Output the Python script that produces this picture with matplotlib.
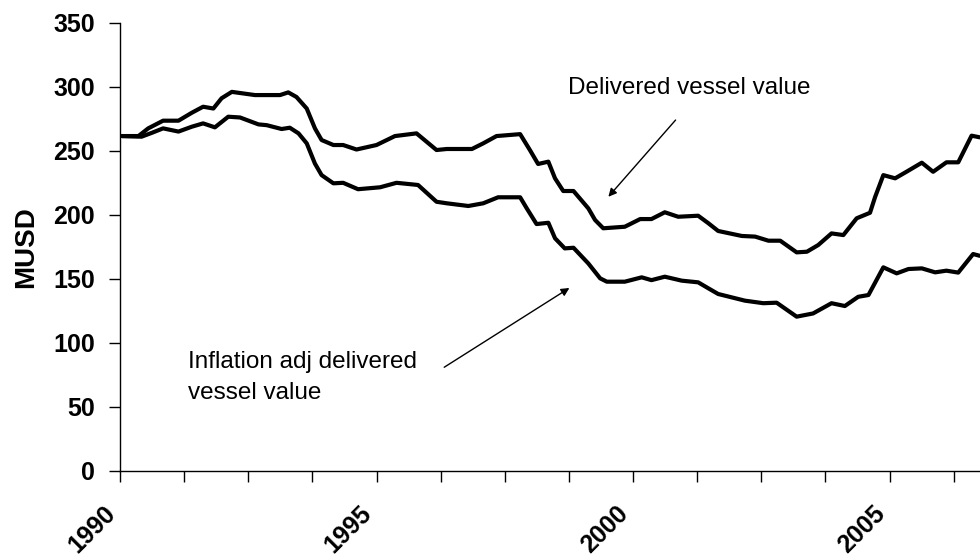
import matplotlib
matplotlib.use("Agg")
import matplotlib.pyplot as plt
import numpy as np

# ---- data (decimal years, MUSD) ----
delivered_t = [1990.04, 1990.36, 1990.55, 1990.84, 1991.14, 1991.40, 1991.62, 1991.82, 1991.98, 1992.18,
               1992.63, 1993.12, 1993.28, 1993.44, 1993.64, 1993.80, 1993.93, 1994.16, 1994.35, 1994.61,
               1995.00, 1995.36, 1995.78, 1996.17, 1996.37, 1996.86, 1997.08, 1997.34, 1997.80, 1997.99,
               1998.15, 1998.35, 1998.48, 1998.64, 1998.84, 1999.13, 1999.26, 1999.42, 1999.84, 2000.14,
               2000.36, 2000.62, 2000.88, 2001.27, 2001.47, 2001.66, 2002.12, 2002.38, 2002.64, 2002.87,
               2003.19, 2003.39, 2003.61, 2003.87, 2004.10, 2004.36, 2004.62, 2004.72, 2004.88, 2005.11,
               2005.33, 2005.63, 2005.85, 2006.11, 2006.34, 2006.60, 2006.76]
delivered_v = [261.5, 261.5, 267.5, 273.5, 273.5, 279.7, 284.4, 283, 291, 296,
               293.5, 293.5, 295.6, 292, 283, 267.5, 258.4, 254.5, 254.5, 251,
               254.5, 261.5, 263.6, 250.6, 251.4, 251.4, 255.8, 261.5, 263, 250.6,
               239.7, 241.5, 228.5, 218.6, 218.6, 205, 196, 189.5, 190.7, 196.7,
               196.7, 202, 198.5, 199.3, 193.4, 187.4, 183.5, 183, 179.8, 179.8,
               170.7, 171.2, 176.4, 185.5, 184.2, 197.3, 201.6, 214, 231, 228.5,
               233.6, 240.7, 233.6, 241, 241, 261.8, 260.5]

inflation_t = [1990.04, 1990.42, 1990.62, 1990.84, 1991.14, 1991.40, 1991.62, 1991.85, 1992.11, 1992.34,
               1992.70, 1992.86, 1993.15, 1993.31, 1993.48, 1993.64, 1993.80, 1993.93, 1994.16, 1994.35,
               1994.64, 1995.07, 1995.39, 1995.81, 1996.17, 1996.37, 1996.79, 1997.08, 1997.37, 1997.80,
               1997.93, 1998.12, 1998.35, 1998.48, 1998.67, 1998.84, 1999.13, 1999.36, 1999.49, 1999.84,
               2000.17, 2000.36, 2000.62, 2000.95, 2001.27, 2001.47, 2001.66, 2002.18, 2002.54, 2002.80,
               2003.19, 2003.51, 2003.87, 2004.13, 2004.39, 2004.59, 2004.88, 2005.14, 2005.37, 2005.63,
               2005.89, 2006.11, 2006.34, 2006.63, 2006.76]
inflation_v = [261.5, 261, 264, 267.5, 265, 268.8, 271.4, 268.3, 276.6, 276,
               270.6, 270, 267, 268, 263.6, 255.8, 240, 231, 224.6, 225,
               220, 221.5, 225, 223.3, 210.2, 209, 206.9, 209, 213.7, 213.7,
               205, 192.8, 193.8, 181.7, 173.8, 174.3, 162, 150.4, 147.8, 147.8,
               151.2, 149, 151.7, 148.6, 147.3, 142.6, 138.2, 133, 131, 131.4,
               120.5, 123, 131, 128.8, 136, 137.4, 159, 154.3, 157.7, 158.2,
               155.1, 156.4, 154.9, 169.4, 168]

year_labels = ["1990", "1995", "2000", "2005"]
y_ticks = [0, 50, 100, 150, 200, 250, 300, 350]

plt.rcParams['font.family'] = ['Liberation Sans', 'DejaVu Sans']

fig = plt.figure(figsize=(9.8, 5.56), dpi=100)
ax = fig.add_axes([120/980, 85/556, 1 - 120/980, (471 - 22.7)/556])

ax.plot(delivered_t, delivered_v, color='black', lw=3, solid_joinstyle='round', solid_capstyle='round')
ax.plot(inflation_t, inflation_v, color='black', lw=3, solid_joinstyle='round', solid_capstyle='round')

ax.set_xlim(1990, 1990 + 860/51.3)
ax.set_ylim(0, 350)

xt = np.arange(1990, 2007, 1.25)
ax.set_xticks(xt)
lab = []
for v in xt:
    s = "%d" % int(round(v)) if abs(v - round(v)) < 1e-6 else ""
    lab.append(s if s in year_labels else "")
ax.set_xticklabels(lab, rotation=45, ha='right', va='top', rotation_mode='default',
                   fontsize=18, fontweight='bold')
ax.set_yticks(y_ticks)
ax.set_yticklabels([str(v) for v in y_ticks], fontsize=18, fontweight='bold')

ax.tick_params(axis='x', direction='out', length=8, width=1, pad=14)
ax.tick_params(axis='y', direction='out', length=8, width=1, pad=10)

for s in ['top', 'right']:
    ax.spines[s].set_visible(False)
for s in ['left', 'bottom']:
    ax.spines[s].set_linewidth(1)

ax.set_ylabel("MUSD", fontsize=20, fontweight='bold')
ax.yaxis.set_label_coords(-0.094, 0.5)

ax.text(1998.73, 299, "Delivered vessel value", fontsize=17.5, ha='left', va='center')
ax.annotate("", xy=(1999.52, 214.1), xytext=(2000.83, 274),
            arrowprops=dict(arrowstyle='-|>', color='black', lw=1, mutation_scale=12, shrinkA=0, shrinkB=0))
ax.text(1991.33, 73, "Inflation adj delivered\nvessel value", fontsize=17.5, ha='left', va='center',
        linespacing=1.5)
ax.annotate("", xy=(1998.76, 142.9), xytext=(1996.32, 81),
            arrowprops=dict(arrowstyle='-|>', color='black', lw=1, mutation_scale=12, shrinkA=0, shrinkB=0))

fig.savefig("out.png", dpi=100)
